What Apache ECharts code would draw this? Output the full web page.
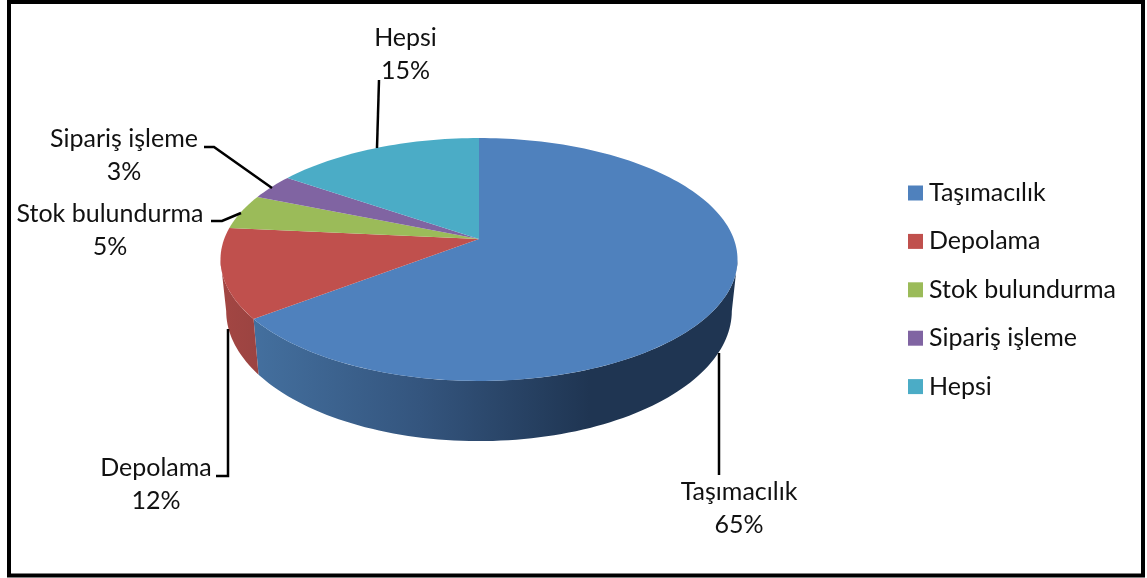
<!DOCTYPE html>
<html><head><meta charset="utf-8">
<style>html,body{margin:0;padding:0;background:#fff}#c{width:1147px;height:578px}</style>
<script src="https://cdn.jsdelivr.net/npm/echarts@6/dist/echarts.min.js"></script>
</head><body><div id="c"></div>
<script>
const categories = ['Taşımacılık','Depolama','Stok bulundurma','Sipariş işleme','Hepsi'];
const shares = [64.6, 11.9, 4.7, 3.4, 15.4];
const colors = ['#4F81BD','#C0504D','#9BBB59','#8064A2','#4BACC6'];

// projection of the tilted disc
const FONT = 'Lato', FS = 25;
const VX = 479, VY = 239, R = 254.8, K = 118, P = 0.1687, DEPTH = 50, SHRINK = 0.978;
// label placement: text centre, and leader route
const labelLayout = [
  {x:739, y:508.5, route:[[719,353],[719,475]]},
  {x:156, y:484.5, route:[[228,329],[228,476],[216,476]]},
  {x:110, y:230,  route:[[241,213],[222,221],[211,221]]},
  {x:124, y:155,  route:[[272,188],[214,147],[204,147]]},
  {x:405.5, y:54.5, route:[[377,148],[379,80]]}
];
const total = shares.reduce((a,b)=>a+b,0);
const wallFrom = Math.acos(-P)/(2*Math.PI), wallTo = 1-wallFrom;   // silhouette of the disc
function topPt(frac){
  const a = frac*2*Math.PI, x = Math.sin(a), z = -Math.cos(a), s = 1/(1-P*z);
  return {X:VX+R*x*s, Y:VY+K*z*s, s};
}
function botPt(frac){
  const t = topPt(frac);
  return [VX+(t.X-VX)*SHRINK, t.Y+DEPTH*t.s];
}
function arc(f0,f1,fn){
  const n = Math.max(4,Math.ceil((f1-f0)*240)), out = [];
  for(let k=0;k<=n;k++) out.push(fn(f0+(f1-f0)*k/n));
  return out;
}
function wallFill(i){
  if(i===0) return new echarts.graphic.LinearGradient(250,0,590,0,[
    {offset:0,color:'#44709F'},{offset:.5,color:'#34557E'},{offset:1,color:'#1F3552'}],true);
  return new echarts.graphic.LinearGradient(220,0,265,0,[
    {offset:0,color:'#A34643'},{offset:1,color:'#9A4341'}],true);
}
function renderItem(params){
  const i = params.seriesIndex;
  let start = 0; for(let k=0;k<i;k++) start += shares[k];
  const f0 = start/total, f1 = (start+shares[i])/total;
  const rim = arc(f0,f1,f=>{const t=topPt(f);return [t.X,t.Y];});
  const lay = labelLayout[i];
  const pct = Math.round(shares[i]/total*100)+'%';
  const children = [];
  const w0 = Math.max(f0,wallFrom), w1 = Math.min(f1,wallTo);
  if(w1>w0){
    const up = arc(w0,w1,f=>{const t=topPt(f);return [t.X,t.Y];});
    const low = arc(w0,w1,botPt).reverse();
    children.push({type:'polygon', z2:1, shape:{points:up.concat(low)}, style:{fill:wallFill(i)}});
  }
  children.push(
    {type:'polygon', z2:2, shape:{points:[[VX,VY]].concat(rim)}, style:{fill:colors[i]}},
    {type:'polyline', z2:3, shape:{points:lay.route}, style:{stroke:'#000',lineWidth:2.5,fill:'none'}},
    {type:'text', z2:4, style:{x:lay.x,y:lay.y-16.5,text:categories[i],align:'center',verticalAlign:'middle',
      fontFamily:FONT,fontSize:FS,fill:'#111'}},
    {type:'text', z2:4, style:{x:lay.x,y:lay.y+16.5,text:pct,align:'center',verticalAlign:'middle',
      fontFamily:FONT,fontSize:FS,fill:'#111'}});
  return {type:'group', children};
}
const chart = echarts.init(document.getElementById('c'),null,{renderer:'canvas'});
chart.setOption({
  animation:false,
  backgroundColor:'#fff',
  legend:{orient:'vertical',left:903,top:175.5,itemWidth:15,itemHeight:15,itemGap:23.4,selectedMode:false,
    icon:'rect',data:categories,
    textStyle:{fontFamily:FONT,fontSize:FS,color:'#111',height:15,lineHeight:15,padding:[0,0,0,1]}},
  graphic:[{type:'rect',z:10,shape:{x:9,y:2,width:1134,height:573.5},style:{fill:'none',stroke:'#000',lineWidth:4}}],
  series:categories.map((name,i)=>({type:'custom',name,coordinateSystem:'none',
    itemStyle:{color:colors[i]},data:[[shares[i]]],renderItem,silent:true}))
});
</script></body></html>
